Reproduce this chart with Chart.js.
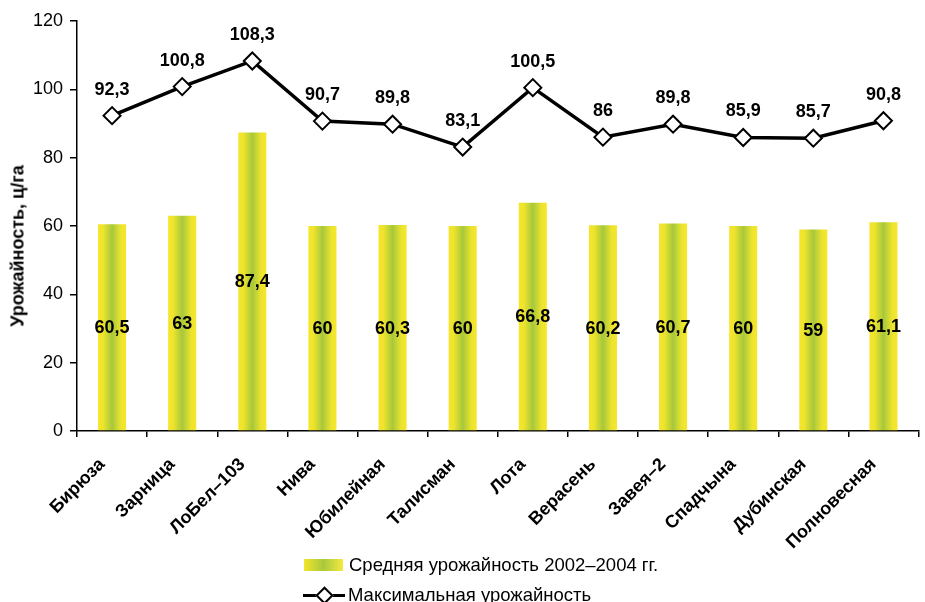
<!DOCTYPE html>
<html lang="ru">
<head>
<meta charset="utf-8">
<title>Урожайность сортов</title>
<script src="https://cdn.jsdelivr.net/npm/chart.js@4/dist/chart.umd.min.js"></script>
<style>
  html, body { margin: 0; padding: 0; background: #fff; overflow: hidden; }
  #wrap { position: relative; width: 925px; height: 602px; overflow: hidden; }
  #chart { position: absolute; left: 0; top: 0; }
  #ytitle {
    position: absolute; left: 18px; top: 246px;
    transform: translate(-50%, -50%) rotate(-90deg);
    font: bold 18px "Liberation Sans", Arial, sans-serif; white-space: nowrap; color: #000;
  }
  .leg { position: absolute; left: 303px; font: 18.5px "Liberation Sans", Arial, sans-serif; color: #000; white-space: nowrap; display: flex; align-items: center; }
  .sw { width: 39px; height: 12px; margin-right: 6px; margin-left: 1px;
        background: linear-gradient(to right, #f2e52c 0%, #a9c93c 50%, #f5ea40 100%); }
  .ln { width: 42px; height: 16px; margin-right: 3px; position: relative; }
  .ln::before { content: ""; position: absolute; left: 0; right: 0; top: 6.5px; height: 3px; background: #000; }
  .ln::after { content: ""; position: absolute; left: 15px; top: 2px; width: 9px; height: 9px; background: #fff;
               border: 2px solid #000; transform: rotate(45deg); }
</style>
</head>
<body>
<div id="wrap">
  <canvas id="chart" width="929" height="602"></canvas>
  <div id="ytitle">Урожайность, ц/га</div>
  <div class="leg" style="top:554px"><span class="sw"></span>Средняя урожайность 2002–2004 гг.</div>
  <div class="leg" style="top:584px"><span class="ln"></span>Максимальная урожайность</div>
</div>
<script>
const categories = ['Бирюза', 'Зарница', 'ЛоБел–103', 'Нива', 'Юбилейная', 'Талисман',
                    'Лота', 'Верасень', 'Завея–2', 'Спадчына', 'Дубинская', 'Полновесная'];
const avgYield = [60.5, 63, 87.4, 60, 60.3, 60, 66.8, 60.2, 60.7, 60, 59, 61.1];
const maxYield = [92.3, 100.8, 108.3, 90.7, 89.8, 83.1, 100.5, 86, 89.8, 85.9, 85.7, 90.8];
const yMin = 0, yMax = 120, yStep = 20;

const FONT = '"Liberation Sans", Arial, sans-serif';
const BAR_PCT = 0.4;

function fmt(v) { return String(v).replace('.', ','); }

// Horizontal yellow–green–yellow fill for each bar
function barFill(ctx) {
  const chart = ctx.chart;
  const area = chart.chartArea;
  if (!area || ctx.dataIndex === undefined) return '#e8e23a';
  const xs = chart.scales.x;
  const cx = xs.getPixelForValue(ctx.dataIndex);
  const w = (area.right - area.left) / categories.length * BAR_PCT;
  const g = chart.ctx.createLinearGradient(cx - w / 2, 0, cx + w / 2, 0);
  g.addColorStop(0, '#f6e52a');
  g.addColorStop(0.18, '#eee42c');
  g.addColorStop(0.5, '#a7c83b');
  g.addColorStop(0.82, '#ede42e');
  g.addColorStop(1, '#f7e62a');
  return g;
}

// Value labels: centred inside bars, above line markers
const valueLabels = {
  id: 'valueLabels',
  afterDatasetsDraw(chart) {
    const c = chart.ctx;
    c.save();
    c.font = 'bold 18px ' + FONT;
    c.fillStyle = '#000';
    c.textAlign = 'center';
    c.textBaseline = 'middle';
    chart.data.datasets.forEach((ds, di) => {
      const meta = chart.getDatasetMeta(di);
      meta.data.forEach((el, i) => {
        const v = ds.data[i];
        if (ds.type === 'bar') {
          c.fillText(fmt(v), el.x, (el.y + el.base) / 2 + 1);
        } else {
          c.fillText(fmt(v), el.x, el.y - 26);
        }
      });
    });
    c.restore();
  }
};

new Chart(document.getElementById('chart'), {
  data: {
    labels: categories,
    datasets: [
      {
        type: 'line',
        label: 'Максимальная урожайность',
        data: maxYield,
        borderColor: '#000',
        borderWidth: 3.5,
        tension: 0,
        pointStyle: 'rectRot',
        pointRadius: 8.5,
        pointHoverRadius: 8.5,
        pointBackgroundColor: '#fff',
        pointBorderColor: '#000',
        pointBorderWidth: 2,
        order: 0
      },
      {
        type: 'bar',
        label: 'Средняя урожайность 2002–2004 гг.',
        data: avgYield,
        backgroundColor: barFill,
        borderWidth: 0,
        barPercentage: BAR_PCT,
        categoryPercentage: 1,
        order: 1
      }
    ]
  },
  plugins: [valueLabels],
  options: {
    responsive: false,
    animation: false,
    events: [],
    layout: { padding: { top: 21, right: 0, bottom: 0, left: 0 } },
    plugins: { legend: { display: false }, tooltip: { enabled: false } },
    scales: {
      x: {
        offset: true,
        afterFit(s) { s.height = 171; },
        border: { display: true, color: '#000', width: 1.5 },
        grid: { display: true, offset: true, drawOnChartArea: false, drawTicks: true, tickLength: 6, color: '#000', lineWidth: 1.5 },
        ticks: {
          minRotation: 45, maxRotation: 45, autoSkip: false, padding: 17, labelOffset: -10,
          color: '#000', font: { family: FONT, size: 18, weight: 'bold' }
        }
      },
      y: {
        min: yMin, max: yMax,
        afterFit(s) { s.width = 77; },
        border: { display: true, color: '#000', width: 1.5 },
        grid: { display: true, drawOnChartArea: false, drawTicks: true, tickLength: 7, color: '#000', lineWidth: 1.5 },
        ticks: { stepSize: yStep, padding: 7, color: '#000', font: { family: FONT, size: 18 } }
      }
    }
  }
});
</script>
</body>
</html>
